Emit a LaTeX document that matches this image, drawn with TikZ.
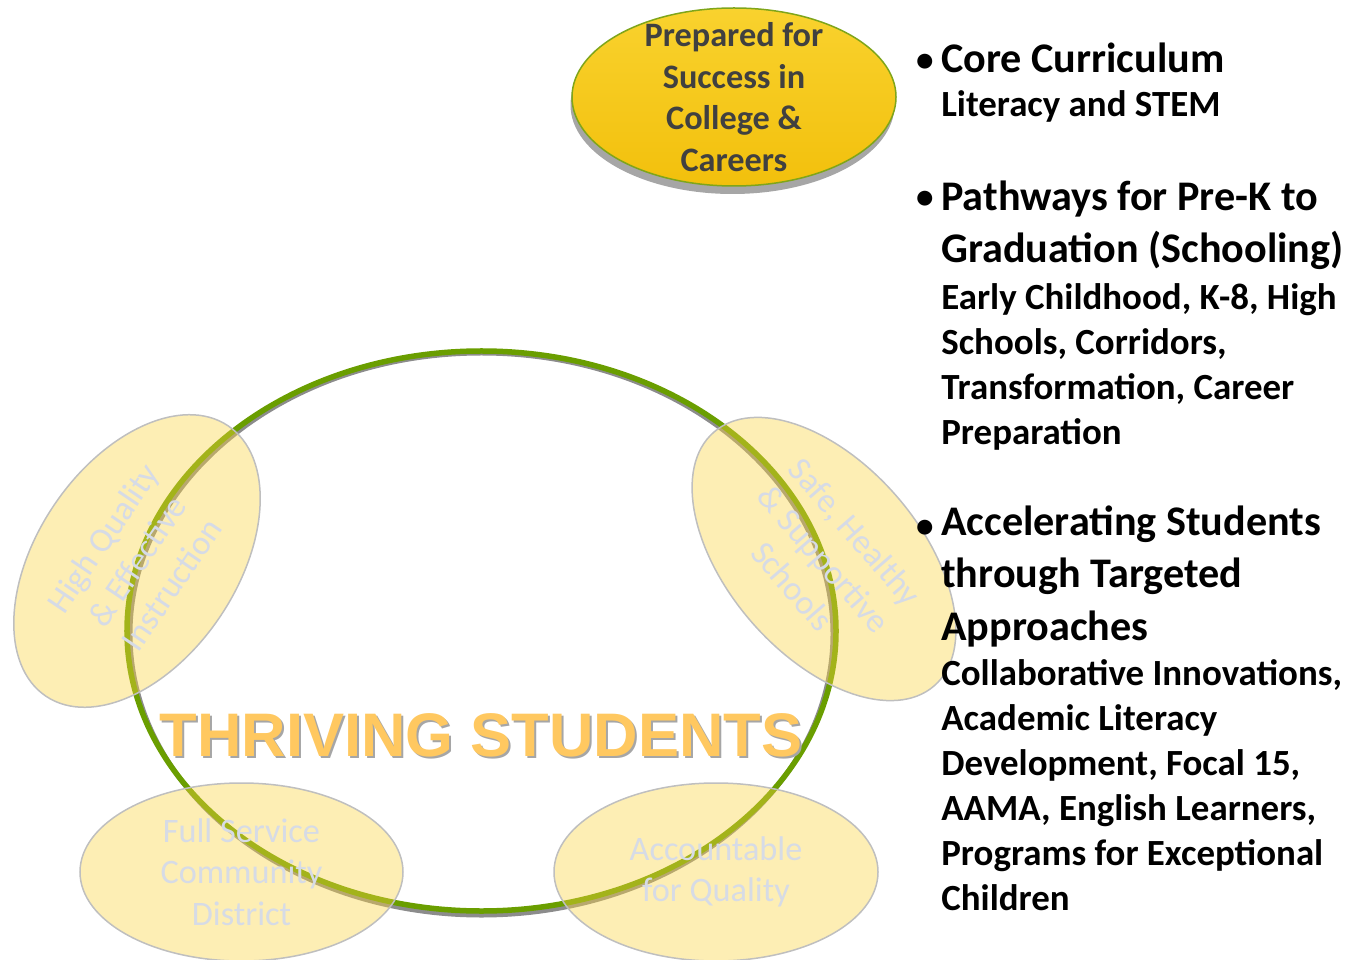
\documentclass[tikz,border=0pt]{standalone}
\usepackage{fontspec}
\setmainfont{Carlito}
\newfontfamily\arialfont{Liberation Sans}
\usetikzlibrary{shapes.geometric,shadows}

\definecolor{ringgreen}{HTML}{6A9E00}
\definecolor{ringshade}{HTML}{8C8C8C}
\definecolor{goaltop}{HTML}{F9D22E}
\definecolor{goalbottom}{HTML}{F2C00C}
\definecolor{goalline}{HTML}{7FA51A}
\definecolor{goalink}{HTML}{404040}
\definecolor{shadegray}{HTML}{A6A6A6}
\definecolor{satfill}{HTML}{FAD443}
\definecolor{satline}{HTML}{BFBFBF}
\definecolor{satink}{HTML}{D6DBE6}
\definecolor{titleorange}{HTML}{FFC860}

\begin{document}
\begin{tikzpicture}[x=0.2mm, y=-0.2mm,
    every node/.style={inner sep=0pt},
    ring/.style={ellipse, draw=ringgreen, line width=1.1mm},
    ringshadow/.style={ellipse, draw=ringshade, line width=1mm},
    goal/.style={ellipse, draw=goalline, line width=0.3mm,
      top color=goaltop, bottom color=goalbottom,
      drop shadow={shadow xshift=-0.3mm, shadow yshift=-1.6mm, fill=shadegray, opacity=1}},
    goaltext/.style={align=center, text=goalink, font=\bfseries\fontsize{19.5}{23.6}\selectfont},
    sat/.style={ellipse, draw=satline, line width=0.3mm, fill=satfill,
      fill opacity=0.4, text opacity=1, text=satink, align=center,
      font=\fontsize{19.5}{23.6}\selectfont},
    title/.style={font=\arialfont\bfseries\fontsize{35}{40}\selectfont},
    bullet/.style={anchor=base east, font=\bfseries\fontsize{20}{24}\selectfont},
    head/.style={anchor=base west, align=left, font=\bfseries\fontsize{24}{29.6}\selectfont},
    sub/.style={anchor=base west, align=left, font=\bfseries\fontsize{21}{25.5}\selectfont}]

  \useasboundingbox (0,0) rectangle (1367,960);

  % big ring
  \node[ringshadow, minimum width=140.6mm, minimum height=112.4mm] (ringsh) at (481.5,634) {};
  \node[ring, minimum width=141.8mm, minimum height=112mm] (ring) at (481.5,631) {};
  \node[title, text=shadegray] (titlesh) at (483,737) {THRIVING STUDENTS};
  \node[title, text=titleorange] (title) at (481,735) {THRIVING STUDENTS};

  % goal on top
  \node[goal, minimum width=64.8mm, minimum height=35.6mm] (goal) at (734,97) {};
  \node[goaltext] (goaltxt) at (goal.center) {Prepared for\\ Success in\\ College \&\\ Careers};

  % satellites
  \node[sat, minimum width=65.2mm, minimum height=40mm, rotate=56] (hq) at (137,561)
    {High Quality\\ \& Effective\\ Instruction};
  \node[sat, minimum width=67.2mm, minimum height=38.4mm, rotate=-49] (safe) at (824,559)
    {Safe, Healthy\\ \& Supportive\\ Schools};
  \node[sat, minimum width=64.6mm, minimum height=35.6mm] (fsc) at (241.5,872)
    {Full Service\\ Community\\ District};
  \node[sat, minimum width=64.8mm, minimum height=35.6mm] (acc) at (716,872)
    {Accountable\\ for Quality};

  % list on the right (base = last line)
  \node[bullet] (b1) at (934,72) {\textbullet};
  \node[head] (h1) at (941,73) {Core Curriculum};
  \node[sub] (d1) at (941,117) {Literacy and STEM};

  \node[bullet] (b2) at (934,209) {\textbullet};
  \node[head] (h2) at (941,263) {Pathways for Pre-K to\\ Graduation (Schooling)};
  \node[sub] (d2) at (941,444) {Early Childhood, K-8, High\\ Schools, Corridors,\\ Transformation, Career\\ Preparation};

  \node[bullet] (b3) at (934,537) {\textbullet};
  \node[head] (h3) at (941,640) {Accelerating Students\\ through Targeted\\ Approaches};
  \node[sub] (d3) at (941,910) {Collaborative Innovations,\\ Academic Literacy\\ Development, Focal 15,\\ AAMA, English Learners,\\ Programs for Exceptional\\ Children};
\end{tikzpicture}
\end{document}
